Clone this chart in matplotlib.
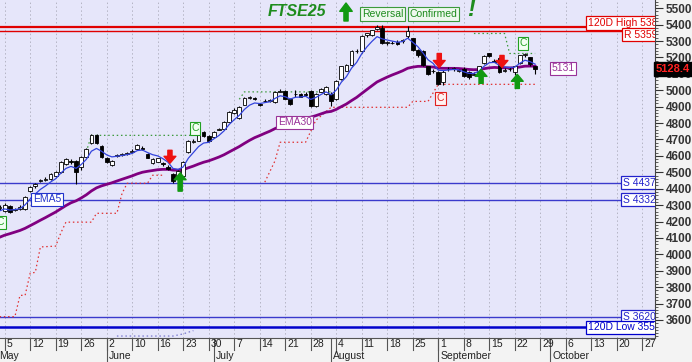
import matplotlib
matplotlib.use("Agg")
import matplotlib.pyplot as plt
from matplotlib.ticker import MultipleLocator
import matplotlib.transforms as mtransforms
import numpy as np

plt.rcParams["font.family"] = ["Liberation Sans", "DejaVu Sans"]

# daily candles (trading days from 2 May to 26 Sep)
opens = [4282, 4262, 4293, 4270, 4275, 4275, 4385, 4415, 4446, 4452,
         4458, 4477, 4501, 4550, 4569, 4569, 4532, 4593, 4679, 4728,
         4661, 4587, 4544, 4600, 4608, 4612, 4622, 4642, 4650, 4610,
         4556, 4565, 4552, 4535, 4489, 4477, 4477, 4624, 4685, 4691,
         4746, 4720, 4716, 4760, 4765, 4808, 4862, 4832, 4912, 4955,
         4952, 4918, 4932, 4936, 4930, 4992, 4998, 4949, 4975, 4979,
         4975, 4998, 4906, 4991, 4979, 4979, 4949, 5071, 5120, 5151,
         5237, 5237, 5335, 5335, 5375, 5377, 5286, 5290, 5292, 5298,
         5328, 5316, 5243, 5237, 5145, 5115, 5114, 5053, 5128, 5130,
         5118, 5132, 5114, 5095, 5114, 5163, 5224, 5180, 5194, 5120,
         5128, 5114, 5163, 5215, 5200, 5145]
highs = [4300, 4310, 4300, 4285, 4298, 4355, 4415, 4432, 4460, 4470,
         4495, 4505, 4570, 4585, 4580, 4575, 4600, 4648, 4735, 4735,
         4665, 4595, 4575, 4612, 4620, 4625, 4640, 4675, 4660, 4618,
         4585, 4590, 4560, 4545, 4495, 4512, 4570, 4695, 4700, 4732,
         4752, 4725, 4752, 4770, 4812, 4875, 4890, 4905, 4960, 4965,
         4960, 4925, 4945, 4948, 4995, 5005, 5002, 4955, 5000, 4985,
         4990, 5003, 4985, 5012, 5028, 4990, 5062, 5150, 5160, 5245,
         5250, 5335, 5350, 5370, 5400, 5395, 5300, 5300, 5305, 5310,
         5390, 5320, 5250, 5245, 5150, 5130, 5120, 5125, 5140, 5140,
         5130, 5140, 5118, 5110, 5150, 5215, 5230, 5190, 5200, 5135,
         5140, 5150, 5215, 5225, 5205, 5150]
lows = [4270, 4255, 4250, 4262, 4268, 4270, 4380, 4405, 4440, 4445,
        4452, 4470, 4495, 4545, 4550, 4428, 4515, 4590, 4675, 4675,
        4590, 4555, 4538, 4595, 4600, 4606, 4615, 4638, 4635, 4585,
        4550, 4560, 4540, 4515, 4435, 4470, 4470, 4620, 4680, 4688,
        4715, 4685, 4710, 4755, 4760, 4805, 4855, 4825, 4908, 4945,
        4940, 4905, 4928, 4930, 4925, 4990, 4945, 4910, 4960, 4960,
        4965, 4900, 4900, 4988, 4970, 4905, 4940, 5065, 5115, 5145,
        5225, 5230, 5325, 5330, 5370, 5280, 5275, 5280, 5275, 5290,
        5320, 5240, 5205, 5150, 5095, 5105, 5030, 5030, 5120, 5115,
        5110, 5080, 5070, 5090, 5110, 5160, 5200, 5170, 5105, 5110,
        5120, 5090, 5160, 5205, 5150, 5100]
closes = [4290, 4300, 4256, 4278, 4290, 4348, 4409, 4428, 4452, 4458,
          4489, 4501, 4563, 4581, 4560, 4501, 4593, 4642, 4728, 4679,
          4593, 4563, 4569, 4605, 4612, 4618, 4630, 4667, 4642, 4590,
          4581, 4585, 4550, 4520, 4446, 4505, 4563, 4691, 4691, 4728,
          4722, 4691, 4746, 4765, 4808, 4869, 4880, 4900, 4955, 4961,
          4949, 4912, 4936, 4940, 4991, 4998, 4949, 4918, 4979, 4961,
          4973, 4906, 4979, 5010, 5022, 4936, 5059, 5145, 5151, 5237,
          5240, 5328, 5347, 5365, 5385, 5286, 5292, 5286, 5280, 5304,
          5359, 5243, 5212, 5151, 5102, 5120, 5040, 5114, 5132, 5132,
          5120, 5089, 5083, 5102, 5145, 5206, 5210, 5175, 5114, 5122,
          5132, 5145, 5212, 5220, 5157, 5128.4]

ema30_start = 4104
ema5_start = 4265

# trailing stops (day, level) break points
low_stop1_days = [0, 3, 4, 5, 6, 7, 8, 11, 12, 13, 18, 19, 23, 24, 25, 29, 30, 32]
low_stop1_vals = [3620, 3620, 3750, 3750, 3885, 3890, 4045, 4050, 4130, 4196,
                  4196, 4250, 4250, 4370, 4433, 4433, 4482, 4482]
low_stop2_days = [52, 54, 55, 60, 62, 65, 80, 81, 84, 86, 105]
low_stop2_vals = [4440, 4570, 4683, 4683, 4817, 4896, 4896, 4932, 4932, 5036, 5036]
up_stop1_days = [17, 18, 38]
up_stop1_vals = [4625, 4725, 4725]
up_stop2_days = [47, 48, 65]
up_stop2_vals = [4945, 4990, 4990]
up_stop3_days = [93, 99, 100, 105]
up_stop3_vals = [5346, 5346, 5224, 5224]
low_dots_days = [23, 34, 36, 38]
low_dots_vals = [3502, 3502, 3515, 3535]

# horizontal levels
levels = [5388, 5359, 4437, 4332, 3620, 3556]
level_labels = ["120D High 5388", "R 5359", "S 4437", "S 4332", "S 3620", "120D Low 3556"]

# signals: (day, tail, tip)
down_arrows = [(33.4, 4634, 4555), (86.2, 5224, 5139), (98.5, 5212, 5139)]
up_arrows = [(35.4, 4385, 4497), (94.4, 5042, 5127), (101.5, 5011, 5097)]

week_labels = ["5", "12", "19", "26", "2", "10", "16", "23", "30", "7", "14", "21", "28",
               "4", "11", "18", "25", "1", "8", "15", "22", "29", "6", "13", "20", "27"]
month_names = ["May", "June", "July", "August", "September", "October"]
month_starts = [-0.5, 21, 42, 65, 86, 108]


def ema(values, span, seed):
    alpha = 2 / (span + 1)
    out = [seed]
    for v in values[1:]:
        out.append(out[-1] + alpha * (v - out[-1]))
    return np.array(out)


W, H = 692, 362
fig = plt.figure(figsize=(W / 100, H / 100), dpi=100, facecolor="#f3f3f3")
ax = fig.add_axes([0, 24 / H, 655 / W, 338 / H], facecolor="#e6e6fa")
xlim = (0.08, 128.5)
ax.set_xlim(*xlim)
ax.set_ylim(3490, 5550)

days = np.arange(len(closes))
week_pos = [1 + 5 * k for k in range(len(week_labels))]
for p in week_pos:
    ax.axvline(p, color="#b4b4c4", linestyle=(0, (1.5, 2.5)), linewidth=0.7, zorder=0)

# levels
ax.axhline(levels[0], color="#e00000", linewidth=1.6, zorder=1)
ax.axhline(levels[1], color="#e00000", linewidth=1.0, zorder=1)
for lv in levels[2:5]:
    ax.axhline(lv, color="#3a3acc", linewidth=1.0, zorder=1)
ax.axhline(levels[5], color="#0000cc", linewidth=1.8, zorder=1)

# stops
dot = (0, (1.2, 2.2))
ax.plot(low_stop1_days, low_stop1_vals, color="#e03030", linestyle=dot, linewidth=0.9)
ax.plot(low_stop2_days, low_stop2_vals, color="#e03030", linestyle=dot, linewidth=0.9)
for d, v in [(up_stop1_days, up_stop1_vals), (up_stop2_days, up_stop2_vals),
             (up_stop3_days, up_stop3_vals)]:
    ax.plot(d, v, color="#3c9a3c", linestyle=dot, linewidth=0.9)
ax.plot(low_dots_days, low_dots_vals, color="#7777cc", linestyle=dot, linewidth=0.9)

# moving averages
ema30 = ema(closes, 30, ema30_start)
ema5 = ema(closes, 5, ema5_start)
ax.plot(days, ema30, color="#800080", linewidth=2.0, zorder=2)

# candles
o = np.array(opens, float)
c = np.array(closes, float)
ax.vlines(days, lows, highs, color="black", linewidth=0.8, zorder=3)
bottoms = np.minimum(o, c)
heights = np.maximum(np.abs(c - o), 4)
face = ["white" if cc >= oo else "black" for oo, cc in zip(o, c)]
ax.bar(days, heights, bottom=bottoms, width=0.72, color=face, edgecolor="black",
       linewidth=0.6, zorder=4)
ax.plot(days, ema5, color="#3344dd", linewidth=0.9, zorder=5)

# arrows
for x, tail, tip in down_arrows:
    ax.annotate("", xy=(x, tip), xytext=(x, tail),
                arrowprops=dict(facecolor="#ee1111", edgecolor="#ee1111", width=3,
                                headwidth=8.5, headlength=5, shrink=0), zorder=6)
for x, tail, tip in up_arrows:
    ax.annotate("", xy=(x, tip), xytext=(x, tail),
                arrowprops=dict(facecolor="#119911", edgecolor="#119911", width=3,
                                headwidth=8.5, headlength=5, shrink=0), zorder=6)


def boxed(x, y, s, color, size=7.5, ha="center", fc="white", clip=True):
    ax.text(x, y, s, color=color, fontsize=size, ha=ha, va="center", zorder=7,
            clip_on=clip,
            bbox=dict(boxstyle="square,pad=0.15", fc=fc, ec=color, lw=0.8))


boxed(38.3, 4768, "C", "#22a022", fc="#f2fff2")
boxed(102.6, 5285, "C", "#22a022", fc="#f2fff2")
boxed(0.9, 4196, "C", "#22a022", ha="right", fc="#f2fff2")
boxed(86.4, 4950, "C", "#e02020", fc="#fff2f2")
boxed(9.3, 4336, "EMA5", "#2233cc")
boxed(57.9, 4804, "EMA30", "#993399")
boxed(110.5, 5133, "5131", "#993399")

# level labels at right edge
label_y = [5410, 5338, 4437, 4332, 3620, 3556]
label_x = [115.3, 122.4, 122.2, 122.2, 122.2, 115.3]
label_c = ["#e00000", "#e00000", "#2222cc", "#2222cc", "#2222cc", "#0000cc"]
for lx, ly, s, col in zip(label_x, label_y, level_labels, label_c):
    ax.text(lx, ly, s, color=col, fontsize=7.5, ha="left", va="center", zorder=8,
            clip_on=True,
            bbox=dict(boxstyle="square,pad=0.15", fc="white", ec=col, lw=0.9))

# title
ax.text(268 / 655, 1 - 12 / 338, "FTSE25", transform=ax.transAxes, color="#1e8c1e",
        fontsize=11.5, fontweight="bold", fontstyle="italic", ha="left", va="center")
ax.annotate("", xy=(346 / 655, 1 - 3 / 338), xytext=(346 / 655, 1 - 21 / 338),
            xycoords="axes fraction",
            arrowprops=dict(facecolor="#119911", edgecolor="#119911", width=3,
                            headwidth=9, headlength=6, shrink=0))
for tx, s in [(362, "Reversal"), (410, "Confirmed")]:
    ax.text(tx / 655, 1 - 14 / 338, s, transform=ax.transAxes, color="#1e8c1e",
            fontsize=7.5, ha="left", va="center",
            bbox=dict(boxstyle="square,pad=0.15", fc="#eef8ee", ec="#3c9a3c", lw=0.8))
ax.text(467 / 655, 1 - 10 / 338, "!", transform=ax.transAxes, color="#1e8c1e",
        fontsize=17, fontweight="bold", fontstyle="italic", ha="left", va="center")

# right axis
for side in ["left", "top"]:
    ax.spines[side].set_visible(False)
ax.spines["right"].set_color("#444444")
ax.spines["bottom"].set_color("#555555")
ax.set_xticks([])
ax.yaxis.tick_right()
ax.yaxis.set_major_locator(MultipleLocator(100))
ax.yaxis.set_minor_locator(MultipleLocator(20))
ax.set_yticks(np.arange(3600, 5501, 100))
ax.tick_params(axis="y", which="major", length=6, width=0.8, pad=2, labelsize=8.5,
               colors="#333333")
ax.tick_params(axis="y", which="minor", length=2.5, width=0.6, colors="#444444")
for lab in ax.get_yticklabels():
    lab.set_fontweight("bold")

trans = mtransforms.blended_transform_factory(ax.transAxes, ax.transData)
ax.text(1.0015, closes[-1], "5128.4", transform=trans, color="#ff2020", fontsize=8,
        fontweight="bold", ha="left", va="center", clip_on=False, zorder=9,
        bbox=dict(boxstyle="square,pad=0.2", fc="black", ec="black"))

# date strip
ax2 = fig.add_axes([0, 0, 655 / W, 24 / H], facecolor="#f3f3f3")
ax2.set_xlim(*xlim)
ax2.set_ylim(0, 1)
ax2.axis("off")
for p, s in zip(week_pos, week_labels):
    ax2.plot([p, p], [0.5, 1], color="#555555", linewidth=0.8)
    ax2.text(p + 0.35, 0.74, s, fontsize=7.5, color="#222222", ha="left", va="center")
for p, s in zip(month_starts, month_names):
    ax2.plot([p, p], [0, 1], color="#555555", linewidth=0.8)
    ax2.text(p + 0.45, 0.24, s, fontsize=7.5, color="#222222", ha="left", va="center")

fig.savefig("out.png", dpi=100, facecolor=fig.get_facecolor())
